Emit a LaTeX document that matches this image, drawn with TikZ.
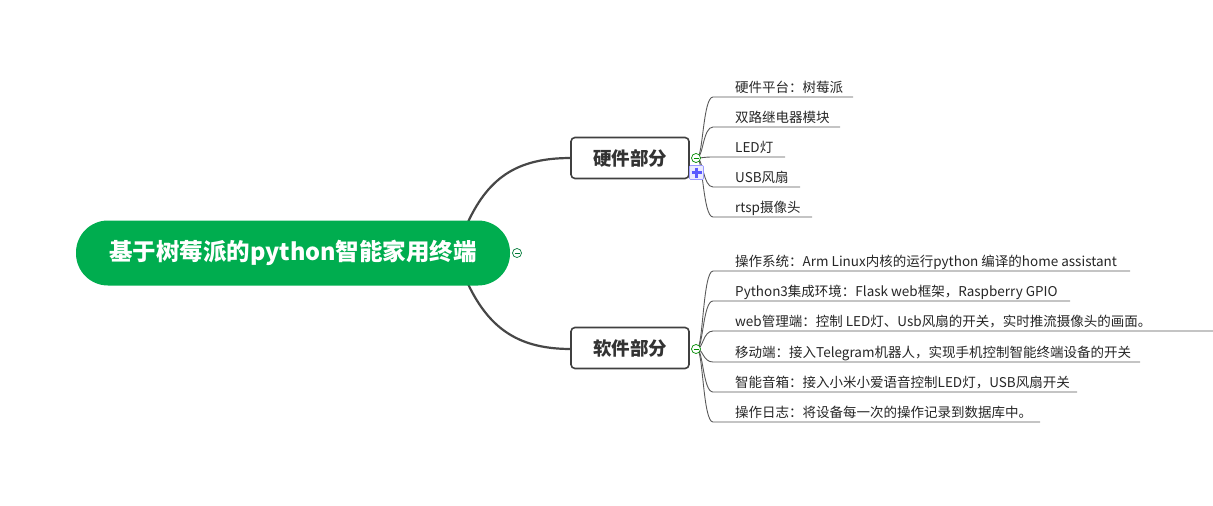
\documentclass[tikz,border=0pt]{standalone}
\usepackage{fontspec}
\setmainfont{Noto Sans CJK SC}
\begin{document}
\begin{tikzpicture}[x=1pt,y=-1pt,
  topic/.style={draw=black!75,line width=1.6pt,rounded corners=4pt,fill=white,minimum width=118pt,minimum height=41pt,font=\fontsize{18.5}{22}\selectfont\bfseries,text=black!80},
  leaf/.style={anchor=base west,inner sep=0pt,font=\fontsize{13.5}{16}\selectfont,text=black!85},
  main/.style={draw=black!72,line width=2.2pt},
  br/.style={draw=black!65,line width=0.9pt}]
\useasboundingbox (0,0) rectangle (1213,506);
\definecolor{rootg}{HTML}{00AD4F}
\draw[main] (468,222) .. controls (490,175) and (520,158) .. (571,158);
\draw[main] (468,284) .. controls (490,330) and (520,349) .. (571,349);
\node[fill=rootg,rounded corners=32pt,minimum width=434pt,minimum height=65pt,text=white,font=\fontsize{23.5}{28}\selectfont\bfseries] (root) at (293,253) {基于树莓派的python智能家用终端};
\draw[draw=rootg!70!black,fill=white,line width=0.7pt] (517,253) circle (4.5) ;
\draw[rootg!70!black,line width=0.8pt] (514.5,253) -- (519.5,253);
\node[topic] (hw) at (630,158) {硬件部分};
\node[topic] (sw) at (630,348) {软件部分};
% hardware leaves
\foreach \y/\e/\t [count=\i] in {97/853/硬件平台：树莓派,127/840/双路继电器模块,157/785/LED灯,187/800/USB风扇,217/812/rtsp摄像头}{
  \coordinate (h\i) at (713,\y);
  \draw[br] (697,158) .. controls (703,158) and (703,\y) .. (h\i) -- (\e,\y);
  \node[leaf] (hl\i) at (735,\y-5) {\t};
}
\foreach \y/\e/\t [count=\i] in {271/1130/操作系统：Arm Linux内核的运行python 编译的home assistant,301/1070/Python3集成环境：Flask web框架，Raspberry GPIO,331/1213/web管理端：控制 LED灯、Usb风扇的开关，实时推流摄像头的画面。,362/1140/移动端：接入Telegram机器人，实现手机控制智能终端设备的开关,392/1077/智能音箱：接入小米小爱语音控制LED灯，USB风扇开关,422/1040/操作日志：将设备每一次的操作记录到数据库中。}{
  \coordinate (s\i) at (713,\y);
  \draw[br] (697,349) .. controls (703,349) and (703,\y) .. (s\i) -- (\e,\y);
  \node[leaf] (sl\i) at (735,\y-5) {\t};
}
% collapse icons
\draw[draw=green!55!black,fill=white,line width=0.7pt] (696,158) circle (4.5);
\draw[green!55!black,line width=0.8pt] (693.5,158) -- (698.5,158);
\draw[draw=blue!40,fill=blue!8,line width=0.6pt,rounded corners=1pt] (689.5,165.5) rectangle (703.5,179.5);
\draw[blue!65,line width=2.4pt] (691.5,172.5) -- (701.5,172.5) (696.5,167.5) -- (696.5,177.5);
\draw[draw=green!55!black,fill=white,line width=0.7pt] (696,349) circle (4.5);
\draw[green!55!black,line width=0.8pt] (693.5,349) -- (698.5,349);
\end{tikzpicture}
\end{document}
